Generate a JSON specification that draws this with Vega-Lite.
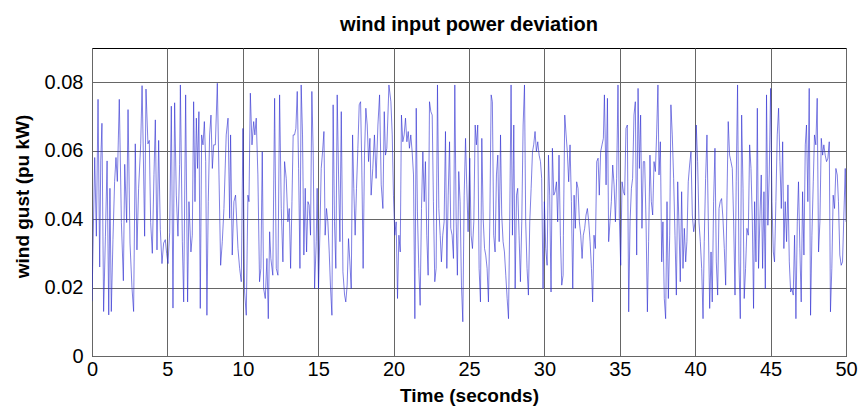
{
  "$schema": "https://vega.github.io/schema/vega-lite/v6.json",
  "autosize": "none",
  "width": 754,
  "height": 308,
  "padding": {"left": 92, "top": 48, "right": 14, "bottom": 59},
  "background": "white",
  "config": {
    "view": {"stroke": "black", "strokeWidth": 1},
    "font": "Liberation Sans"
  },
  "title": {"text": "wind input power deviation", "fontSize": 20, "fontWeight": "bold", "font": "Liberation Sans", "color": "black", "anchor": "middle", "offset": 13},
  "data": {"values": [
{"t":0.00,"v":0.016},{"t":0.18,"v":0.058},{"t":0.29,"v":0.035},{"t":0.40,"v":0.075},{"t":0.51,"v":0.026},{"t":0.58,"v":0.057},{"t":0.66,"v":0.068},{"t":0.77,"v":0.013},{"t":0.89,"v":0.035},{"t":1.00,"v":0.057},{"t":1.11,"v":0.012},{"t":1.19,"v":0.049},{"t":1.28,"v":0.013},{"t":1.39,"v":0.034},{"t":1.50,"v":0.051},{"t":1.59,"v":0.058},{"t":1.68,"v":0.051},{"t":1.81,"v":0.075},{"t":1.95,"v":0.039},{"t":2.08,"v":0.022},{"t":2.17,"v":0.056},{"t":2.30,"v":0.039},{"t":2.39,"v":0.072},{"t":2.52,"v":0.033},{"t":2.65,"v":0.020},{"t":2.76,"v":0.013},{"t":2.87,"v":0.062},{"t":2.98,"v":0.031},{"t":3.09,"v":0.049},{"t":3.23,"v":0.062},{"t":3.32,"v":0.079},{"t":3.40,"v":0.060},{"t":3.49,"v":0.035},{"t":3.58,"v":0.078},{"t":3.71,"v":0.062},{"t":3.80,"v":0.063},{"t":3.89,"v":0.039},{"t":4.00,"v":0.030},{"t":4.11,"v":0.053},{"t":4.20,"v":0.069},{"t":4.31,"v":0.031},{"t":4.42,"v":0.063},{"t":4.53,"v":0.037},{"t":4.64,"v":0.027},{"t":4.75,"v":0.033},{"t":4.86,"v":0.034},{"t":4.95,"v":0.030},{"t":5.04,"v":0.027},{"t":5.15,"v":0.036},{"t":5.26,"v":0.073},{"t":5.37,"v":0.014},{"t":5.48,"v":0.074},{"t":5.59,"v":0.047},{"t":5.70,"v":0.035},{"t":5.81,"v":0.056},
{"t":5.86,"v":0.0792},{"t":5.99,"v":0.0334},{"t":6.08,"v":0.0158},{"t":6.21,"v":0.0763},{"t":6.34,"v":0.0158},{"t":6.43,"v":0.0451},{"t":6.56,"v":0.0304},{"t":6.65,"v":0.0353},{"t":6.74,"v":0.0743},{"t":6.83,"v":0.0451},{"t":6.92,"v":0.0695},{"t":7.00,"v":0.0548},{"t":7.09,"v":0.0714},{"t":7.18,"v":0.0139},{"t":7.27,"v":0.0646},{"t":7.36,"v":0.0617},{"t":7.45,"v":0.0685},{"t":7.54,"v":0.0568},{"t":7.62,"v":0.0119},{"t":7.71,"v":0.0451},{"t":7.80,"v":0.0646},{"t":7.89,"v":0.0704},{"t":7.98,"v":0.0548},{"t":8.07,"v":0.0617},{"t":8.18,"v":0.0617},{"t":8.31,"v":0.0797},{"t":8.42,"v":0.0529},{"t":8.53,"v":0.0265},{"t":8.64,"v":0.0334},{"t":8.75,"v":0.0431},{"t":8.90,"v":0.0646},{"t":9.02,"v":0.0695},{"t":9.13,"v":0.0402},{"t":9.19,"v":0.0646},{"t":9.30,"v":0.0295},{"t":9.41,"v":0.0451},{"t":9.52,"v":0.0470},{"t":9.68,"v":0.0314},{"t":9.79,"v":0.0256},{"t":9.90,"v":0.0217},{"t":10.01,"v":0.0665},{"t":10.12,"v":0.0187},{"t":10.23,"v":0.0119},{"t":10.34,"v":0.0470},{"t":10.41,"v":0.0451},{"t":10.50,"v":0.0768},{"t":10.61,"v":0.0617},{"t":10.72,"v":0.0685},{"t":10.80,"v":0.0646},{"t":10.89,"v":0.0695},{"t":11.00,"v":0.0529},{"t":11.11,"v":0.0217},{"t":11.20,"v":0.0256},{"t":11.29,"v":0.0597},{"t":11.38,"v":0.0197},{"t":11.49,"v":0.0168},{"t":11.60,"v":0.0285},{"t":11.69,"v":0.0109},{"t":11.78,"v":0.0363},{"t":11.86,"v":0.0285},{"t":11.99,"v":0.0236},{"t":12.11,"v":0.0753},
{"t":12.22,"v":0.0256},{"t":12.33,"v":0.0236},{"t":12.44,"v":0.0763},{"t":12.55,"v":0.0431},{"t":12.66,"v":0.0275},{"t":12.77,"v":0.0568},{"t":12.88,"v":0.0519},{"t":12.99,"v":0.0392},{"t":13.08,"v":0.0431},{"t":13.17,"v":0.0256},{"t":13.26,"v":0.0451},{"t":13.34,"v":0.0646},{"t":13.43,"v":0.0646},{"t":13.52,"v":0.0665},{"t":13.61,"v":0.0773},{"t":13.70,"v":0.0548},{"t":13.79,"v":0.0256},{"t":13.87,"v":0.0792},{"t":13.96,"v":0.0646},{"t":14.05,"v":0.0295},{"t":14.14,"v":0.0490},{"t":14.23,"v":0.0304},{"t":14.32,"v":0.0451},{"t":14.40,"v":0.0441},{"t":14.49,"v":0.0353},{"t":14.58,"v":0.0773},{"t":14.67,"v":0.0587},{"t":14.76,"v":0.0197},{"t":14.87,"v":0.0334},{"t":14.93,"v":0.0490},{"t":15.02,"v":0.0197},{"t":15.11,"v":0.0353},{"t":15.20,"v":0.0548},{"t":15.29,"v":0.0597},{"t":15.38,"v":0.0656},{"t":15.46,"v":0.0353},{"t":15.55,"v":0.0431},{"t":15.64,"v":0.0392},{"t":15.73,"v":0.0304},{"t":15.82,"v":0.0197},{"t":15.91,"v":0.0119},{"t":15.99,"v":0.0734},{"t":16.08,"v":0.0392},{"t":16.17,"v":0.0256},{"t":16.26,"v":0.0763},{"t":16.35,"v":0.0529},{"t":16.44,"v":0.0334},{"t":16.53,"v":0.0714},{"t":16.64,"v":0.0246},{"t":16.75,"v":0.0178},{"t":16.83,"v":0.0158},{"t":16.92,"v":0.0207},{"t":17.01,"v":0.0343},{"t":17.10,"v":0.0275},{"t":17.19,"v":0.0197},{"t":17.28,"v":0.0646},{"t":17.36,"v":0.0490},{"t":17.45,"v":0.0353},{"t":17.54,"v":0.0490},{"t":17.63,"v":0.0607},{"t":17.72,"v":0.0734},{"t":17.81,"v":0.0743},{"t":17.89,"v":0.0558},{"t":17.98,"v":0.0256},{"t":18.07,"v":0.0587},{"t":18.16,"v":0.0724},{"t":18.25,"v":0.0675},{"t":18.34,"v":0.0568},{"t":18.43,"v":0.0636},{"t":18.51,"v":0.0470},
{"t":18.62,"v":0.0548},{"t":18.73,"v":0.0646},{"t":18.84,"v":0.0519},{"t":18.96,"v":0.0675},{"t":19.07,"v":0.0763},{"t":19.18,"v":0.0500},{"t":19.29,"v":0.0431},{"t":19.38,"v":0.0714},{"t":19.46,"v":0.0587},{"t":19.55,"v":0.0607},{"t":19.69,"v":0.0792},{"t":19.82,"v":0.0743},{"t":19.91,"v":0.0646},{"t":19.99,"v":0.0470},{"t":20.08,"v":0.0353},{"t":20.17,"v":0.0392},{"t":20.26,"v":0.0168},{"t":20.35,"v":0.0353},{"t":20.44,"v":0.0304},{"t":20.52,"v":0.0704},{"t":20.61,"v":0.0626},{"t":20.70,"v":0.0646},{"t":20.79,"v":0.0695},{"t":20.88,"v":0.0626},{"t":20.97,"v":0.0656},{"t":21.05,"v":0.0607},{"t":21.14,"v":0.0646},{"t":21.23,"v":0.0597},{"t":21.32,"v":0.0529},{"t":21.41,"v":0.0109},{"t":21.50,"v":0.0724},{"t":21.58,"v":0.0421},{"t":21.67,"v":0.0256},{"t":21.76,"v":0.0148},{"t":21.85,"v":0.0431},{"t":21.94,"v":0.0597},{"t":22.03,"v":0.0451},{"t":22.11,"v":0.0568},{"t":22.20,"v":0.0353},{"t":22.29,"v":0.0236},{"t":22.38,"v":0.0743},{"t":22.47,"v":0.0714},{"t":22.56,"v":0.0704},{"t":22.64,"v":0.0451},{"t":22.73,"v":0.0217},{"t":22.82,"v":0.0256},{"t":22.91,"v":0.0792},{"t":23.00,"v":0.0431},{"t":23.09,"v":0.0353},{"t":23.17,"v":0.0275},{"t":23.26,"v":0.0353},{"t":23.35,"v":0.0392},{"t":23.44,"v":0.0656},{"t":23.53,"v":0.0256},{"t":23.62,"v":0.0470},{"t":23.71,"v":0.0626},{"t":23.79,"v":0.0373},{"t":23.88,"v":0.0353},{"t":23.97,"v":0.0285},{"t":24.06,"v":0.0792},{"t":24.15,"v":0.0392},{"t":24.23,"v":0.0236},{"t":24.32,"v":0.0539},{"t":24.41,"v":0.0451},{"t":24.50,"v":0.0207},{"t":24.59,"v":0.0100},{"t":24.68,"v":0.0470},{"t":24.77,"v":0.0636},{"t":24.85,"v":0.0500},{"t":24.94,"v":0.0363},
{"t":25.05,"v":0.0578},{"t":25.14,"v":0.0353},{"t":25.23,"v":0.0314},{"t":25.32,"v":0.0392},{"t":25.41,"v":0.0675},{"t":25.49,"v":0.0617},{"t":25.58,"v":0.0675},{"t":25.67,"v":0.0256},{"t":25.76,"v":0.0158},{"t":25.85,"v":0.0636},{"t":25.94,"v":0.0402},{"t":26.03,"v":0.0314},{"t":26.11,"v":0.0295},{"t":26.20,"v":0.0256},{"t":26.29,"v":0.0158},{"t":26.38,"v":0.0392},{"t":26.47,"v":0.0763},{"t":26.55,"v":0.0743},{"t":26.64,"v":0.0353},{"t":26.73,"v":0.0304},{"t":26.82,"v":0.0529},{"t":26.91,"v":0.0587},{"t":27.00,"v":0.0334},{"t":27.09,"v":0.0646},{"t":27.17,"v":0.0412},{"t":27.26,"v":0.0334},{"t":27.35,"v":0.0304},{"t":27.44,"v":0.0236},{"t":27.53,"v":0.0168},{"t":27.62,"v":0.0109},{"t":27.70,"v":0.0392},{"t":27.79,"v":0.0792},{"t":27.88,"v":0.0353},{"t":27.97,"v":0.0675},{"t":28.06,"v":0.0197},{"t":28.15,"v":0.0470},{"t":28.23,"v":0.0490},{"t":28.32,"v":0.0353},{"t":28.41,"v":0.0217},{"t":28.50,"v":0.0392},{"t":28.59,"v":0.0675},{"t":28.68,"v":0.0792},{"t":28.76,"v":0.0392},{"t":28.85,"v":0.0256},{"t":28.94,"v":0.0178},{"t":29.03,"v":0.0392},{"t":29.12,"v":0.0490},{"t":29.21,"v":0.0597},{"t":29.29,"v":0.0617},{"t":29.38,"v":0.0656},{"t":29.47,"v":0.0597},{"t":29.56,"v":0.0626},{"t":29.65,"v":0.0587},{"t":29.74,"v":0.0568},{"t":29.82,"v":0.0519},{"t":29.91,"v":0.0197},{"t":30.00,"v":0.0451},{"t":30.09,"v":0.0314},{"t":30.18,"v":0.0265},{"t":30.27,"v":0.0587},{"t":30.35,"v":0.0470},{"t":30.44,"v":0.0187},{"t":30.53,"v":0.0607},{"t":30.62,"v":0.0470},{"t":30.71,"v":0.0480},{"t":30.80,"v":0.0509},{"t":30.88,"v":0.0392},{"t":30.97,"v":0.0587},{"t":31.06,"v":0.0353},{"t":31.15,"v":0.0207},{"t":31.24,"v":0.0236},
{"t":31.26,"v":0.0353},{"t":31.35,"v":0.0704},{"t":31.44,"v":0.0646},{"t":31.52,"v":0.0597},{"t":31.61,"v":0.0509},{"t":31.70,"v":0.0617},{"t":31.79,"v":0.0451},{"t":31.88,"v":0.0197},{"t":31.97,"v":0.0470},{"t":32.05,"v":0.0373},{"t":32.14,"v":0.0509},{"t":32.23,"v":0.0490},{"t":32.32,"v":0.0392},{"t":32.41,"v":0.0353},{"t":32.50,"v":0.0285},{"t":32.58,"v":0.0353},{"t":32.67,"v":0.0373},{"t":32.76,"v":0.0412},{"t":32.85,"v":0.0431},{"t":32.94,"v":0.0392},{"t":33.03,"v":0.0334},{"t":33.12,"v":0.0256},{"t":33.20,"v":0.0158},{"t":33.29,"v":0.0353},{"t":33.38,"v":0.0314},{"t":33.47,"v":0.0568},{"t":33.56,"v":0.0578},{"t":33.64,"v":0.0470},{"t":33.73,"v":0.0597},{"t":33.82,"v":0.0617},{"t":33.91,"v":0.0636},{"t":33.98,"v":0.0763},{"t":34.09,"v":0.0500},{"t":34.18,"v":0.0753},{"t":34.26,"v":0.0334},{"t":34.35,"v":0.0392},{"t":34.44,"v":0.0451},{"t":34.53,"v":0.0558},{"t":34.62,"v":0.0500},{"t":34.71,"v":0.0392},{"t":34.79,"v":0.0519},{"t":34.88,"v":0.0792},{"t":34.97,"v":0.0402},{"t":35.06,"v":0.0265},{"t":35.15,"v":0.0509},{"t":35.24,"v":0.0480},{"t":35.32,"v":0.0470},{"t":35.41,"v":0.0665},{"t":35.50,"v":0.0675},{"t":35.59,"v":0.0129},{"t":35.68,"v":0.0392},{"t":35.77,"v":0.0490},{"t":35.85,"v":0.0519},{"t":35.94,"v":0.0704},{"t":36.03,"v":0.0743},{"t":36.12,"v":0.0295},{"t":36.21,"v":0.0782},{"t":36.30,"v":0.0548},{"t":36.38,"v":0.0704},{"t":36.47,"v":0.0373},{"t":36.56,"v":0.0568},{"t":36.65,"v":0.0568},{"t":36.74,"v":0.0392},{"t":36.83,"v":0.0129},{"t":36.91,"v":0.0334},{"t":37.00,"v":0.0587},{"t":37.09,"v":0.0451},{"t":37.18,"v":0.0412},{"t":37.27,"v":0.0568},{"t":37.36,"v":0.0539},{"t":37.44,"v":0.0646},{"t":37.53,"v":0.0792},
{"t":37.60,"v":0.0529},{"t":37.69,"v":0.0626},{"t":37.78,"v":0.0275},{"t":37.86,"v":0.0392},{"t":37.95,"v":0.0168},{"t":38.04,"v":0.0109},{"t":38.13,"v":0.0451},{"t":38.22,"v":0.0168},{"t":38.31,"v":0.0353},{"t":38.39,"v":0.0734},{"t":38.48,"v":0.0646},{"t":38.57,"v":0.0519},{"t":38.66,"v":0.0353},{"t":38.75,"v":0.0178},{"t":38.84,"v":0.0509},{"t":38.92,"v":0.0392},{"t":39.01,"v":0.0217},{"t":39.10,"v":0.0480},{"t":39.19,"v":0.0256},{"t":39.28,"v":0.0373},{"t":39.37,"v":0.0275},{"t":39.45,"v":0.0334},{"t":39.54,"v":0.0509},{"t":39.63,"v":0.0558},{"t":39.72,"v":0.0597},{"t":39.81,"v":0.0412},{"t":39.90,"v":0.0363},{"t":39.99,"v":0.0392},{"t":40.07,"v":0.0675},{"t":40.16,"v":0.0568},{"t":40.25,"v":0.0392},{"t":40.34,"v":0.0334},{"t":40.43,"v":0.0256},{"t":40.52,"v":0.0109},{"t":40.60,"v":0.0334},{"t":40.69,"v":0.0519},{"t":40.78,"v":0.0646},{"t":40.87,"v":0.0392},{"t":40.96,"v":0.0139},{"t":41.05,"v":0.0304},{"t":41.13,"v":0.0158},{"t":41.22,"v":0.0451},{"t":41.31,"v":0.0607},{"t":41.40,"v":0.0275},{"t":41.49,"v":0.0178},{"t":41.58,"v":0.0431},{"t":41.66,"v":0.0451},{"t":41.75,"v":0.0460},{"t":41.84,"v":0.0402},{"t":41.93,"v":0.0314},{"t":42.02,"v":0.0207},{"t":42.11,"v":0.0470},{"t":42.19,"v":0.0685},{"t":42.28,"v":0.0587},{"t":42.37,"v":0.0568},{"t":42.46,"v":0.0548},{"t":42.55,"v":0.0392},{"t":42.64,"v":0.0178},{"t":42.72,"v":0.0509},{"t":42.81,"v":0.0792},{"t":42.90,"v":0.0275},{"t":42.99,"v":0.0109},{"t":43.08,"v":0.0704},{"t":43.17,"v":0.0490},{"t":43.25,"v":0.0168},{"t":43.34,"v":0.0256},{"t":43.43,"v":0.0373},{"t":43.52,"v":0.0353},{"t":43.61,"v":0.0617},{"t":43.70,"v":0.0548},{"t":43.79,"v":0.0392},{"t":43.87,"v":0.0139},
{"t":43.94,"v":0.0451},{"t":44.03,"v":0.0275},{"t":44.12,"v":0.0724},{"t":44.20,"v":0.0256},{"t":44.29,"v":0.0402},{"t":44.38,"v":0.0529},{"t":44.47,"v":0.0256},{"t":44.56,"v":0.0480},{"t":44.65,"v":0.0197},{"t":44.73,"v":0.0763},{"t":44.82,"v":0.0382},{"t":44.91,"v":0.0529},{"t":45.00,"v":0.0782},{"t":45.09,"v":0.0451},{"t":45.18,"v":0.0304},{"t":45.26,"v":0.0275},{"t":45.35,"v":0.0451},{"t":45.44,"v":0.0646},{"t":45.53,"v":0.0724},{"t":45.62,"v":0.0568},{"t":45.71,"v":0.0431},{"t":45.80,"v":0.0626},{"t":45.88,"v":0.0314},{"t":45.97,"v":0.0451},{"t":46.06,"v":0.0334},{"t":46.15,"v":0.0500},{"t":46.24,"v":0.0275},{"t":46.33,"v":0.0187},{"t":46.41,"v":0.0197},{"t":46.50,"v":0.0178},{"t":46.59,"v":0.0353},{"t":46.68,"v":0.0109},{"t":46.77,"v":0.0392},{"t":46.85,"v":0.0509},{"t":46.94,"v":0.0314},{"t":47.03,"v":0.0158},{"t":47.12,"v":0.0480},{"t":47.21,"v":0.0295},{"t":47.30,"v":0.0617},{"t":47.38,"v":0.0675},{"t":47.47,"v":0.0451},{"t":47.56,"v":0.0782},{"t":47.65,"v":0.0119},{"t":47.74,"v":0.0353},{"t":47.83,"v":0.0509},{"t":47.91,"v":0.0646},{"t":48.00,"v":0.0617},{"t":48.09,"v":0.0753},{"t":48.18,"v":0.0304},{"t":48.27,"v":0.0392},{"t":48.36,"v":0.0636},{"t":48.45,"v":0.0587},{"t":48.53,"v":0.0617},{"t":48.62,"v":0.0587},{"t":48.71,"v":0.0568},{"t":48.80,"v":0.0578},{"t":48.89,"v":0.0626},{"t":48.97,"v":0.0129},{"t":49.06,"v":0.0256},{"t":49.15,"v":0.0470},{"t":49.24,"v":0.0431},{"t":49.33,"v":0.0548},{"t":49.42,"v":0.0529},{"t":49.50,"v":0.0451},{"t":49.59,"v":0.0295},{"t":49.68,"v":0.0265},{"t":49.77,"v":0.0275},{"t":49.86,"v":0.0412},{"t":49.95,"v":0.0548},{"t":50.00,"v":0.0392}
  ]},
  "mark": {"type": "line", "color": "#2a2ad0", "strokeWidth": 0.6, "clip": true},
  "encoding": {
    "x": {
      "field": "t", "type": "quantitative",
      "scale": {"domain": [0, 50], "nice": false, "zero": false},
      "axis": {
        "title": "Time (seconds)", "titleFont": "Liberation Sans", "titleFontSize": 19, "titleFontWeight": "bold", "titleColor": "black",
        "titleY": 39, "titleBaseline": "middle",
        "values": [0, 5, 10, 15, 20, 25, 30, 35, 40, 45, 50],
        "labelFont": "Liberation Sans", "labelFontSize": 20, "labelColor": "black", "labelPadding": 3, "labelFlush": false,
        "grid": true, "gridColor": "#666666", "gridWidth": 1, "gridOpacity": 1,
        "ticks": false, "domain": false
      }
    },
    "y": {
      "field": "v", "type": "quantitative",
      "scale": {"domain": [0, 0.09], "nice": false, "zero": false},
      "axis": {
        "title": "wind gust (pu kW)", "titleFont": "Liberation Sans", "titleFontSize": 19, "titleFontWeight": "bold", "titleColor": "black",
        "titleX": -70, "titleY": 148, "titleAngle": -90, "titleAlign": "center", "titleBaseline": "middle",
        "values": [0, 0.02, 0.04, 0.06, 0.08],
        "labelExpr": "datum.value == 0 ? '0' : format(datum.value, '.2f')",
        "labelFont": "Liberation Sans", "labelFontSize": 20, "labelColor": "black", "labelPadding": 9, "labelFlush": false,
        "grid": true, "gridColor": "#666666", "gridWidth": 1, "gridOpacity": 1,
        "ticks": false, "domain": false
      }
    }
  }
}
